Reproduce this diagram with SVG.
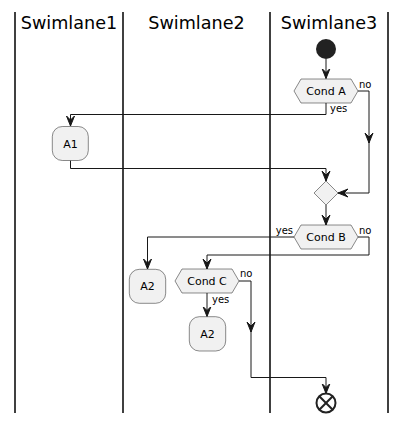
<svg xmlns="http://www.w3.org/2000/svg" width="407" height="424" viewBox="0 0 407 424">
<style>
.lane{stroke:#000;stroke-width:1.5;}
.hdr{font-family:"DejaVu Sans",sans-serif;font-size:17.6px;fill:#000;text-anchor:middle;}
.node{fill:#F1F1F1;stroke:#181818;stroke-width:0.5;}
.txt{font-family:"DejaVu Sans",sans-serif;font-size:11px;fill:#000;text-anchor:middle;}
.lbl{font-family:"DejaVu Sans",sans-serif;font-size:10px;fill:#000;}
.edge{fill:none;stroke:#181818;stroke-width:1;}
</style>
<defs>
<marker id="arr" viewBox="0 0 12 10" refX="10" refY="5" markerWidth="12" markerHeight="10" markerUnits="userSpaceOnUse" orient="auto">
<polygon points="0,1 10,5 0,9 4,5" fill="#181818" stroke="#181818" stroke-width="1" stroke-linejoin="miter"/>
</marker>
</defs>
<g id="lanes">
<line class="lane" x1="15" y1="12" x2="15" y2="413"/>
<line class="lane" x1="123" y1="12" x2="123" y2="413"/>
<line class="lane" x1="270" y1="12" x2="270" y2="413"/>
<line class="lane" x1="388" y1="12" x2="388" y2="413"/>
<text class="hdr" x="69" y="29">Swimlane1</text>
<text class="hdr" x="196.5" y="29">Swimlane2</text>
<text class="hdr" x="329" y="29">Swimlane3</text>
</g>
<g id="connectors">
<path class="edge" d="M326,59 L326,78.5" marker-end="url(#arr)"/>
<path class="edge" d="M326,103 L326,114.5 L70.5,114.5 L70.5,126" marker-end="url(#arr)"/>
<path class="edge" d="M358,91 L369,91 L369,143"  marker-end="url(#arr)"/>
<path class="edge" d="M369,140 L369,193 L338,193" marker-end="url(#arr)"/>
<path class="edge" d="M70.5,160.5 L70.5,168.5 L326,168.5 L326,181" marker-end="url(#arr)"/>
<path class="edge" d="M326,205 L326,225" marker-end="url(#arr)"/>
<path class="edge" d="M294,237 L147.5,237 L147.5,269" marker-end="url(#arr)"/>
<path class="edge" d="M358,237 L369,237 L369,255 L207,255 L207,269" marker-end="url(#arr)"/>
<path class="edge" d="M207,293 L207,316.5" marker-end="url(#arr)"/>
<path class="edge" d="M239,281 L251,281 L251,332" marker-end="url(#arr)"/>
<path class="edge" d="M251,330 L251,377.5 L326,377.5 L326,393.5" marker-end="url(#arr)"/>
<text class="lbl" x="359" y="87.5">no</text>
<text class="lbl" x="330" y="112">yes</text>
<text class="lbl" x="293" y="233.5" text-anchor="end">yes</text>
<text class="lbl" x="359" y="233.5">no</text>
<text class="lbl" x="240" y="277">no</text>
<text class="lbl" x="212" y="302.5">yes</text>
</g>
<g id="start"><circle cx="326" cy="49" r="10" fill="#222222"/></g>
<g id="condA">
<polygon class="node" points="294,91 301,79 351,79 358,91 351,103 301,103"/>
<text class="txt" x="326" y="95">Cond A</text>
</g>
<g id="A1">
<rect class="node" x="52.3" y="126.5" width="36" height="34" rx="10"/>
<text class="txt" x="70.5" y="147.5">A1</text>
</g>
<g id="merge">
<polygon class="node" points="326,181 338,193 326,205 314,193"/>
</g>
<g id="condB">
<polygon class="node" points="294,237 301,225 351,225 358,237 351,249 301,249"/>
<text class="txt" x="326" y="241">Cond B</text>
</g>
<g id="A2a">
<rect class="node" x="129.3" y="269.3" width="36.4" height="34" rx="10"/>
<text class="txt" x="147.5" y="290.3">A2</text>
</g>
<g id="condC">
<polygon class="node" points="175,281 182,269 232,269 239,281 232,293 182,293"/>
<text class="txt" x="207" y="285">Cond C</text>
</g>
<g id="A2b">
<rect class="node" x="189.3" y="316.7" width="36.4" height="34.3" rx="10"/>
<text class="txt" x="207.5" y="337.8">A2</text>
</g>
<g id="end">
<circle cx="326" cy="403" r="9.5" fill="none" stroke="#222222" stroke-width="2"/>
<line x1="319.3" y1="396.3" x2="332.7" y2="409.7" stroke="#222222" stroke-width="2"/>
<line x1="332.7" y1="396.3" x2="319.3" y2="409.7" stroke="#222222" stroke-width="2"/>
</g>
</svg>
